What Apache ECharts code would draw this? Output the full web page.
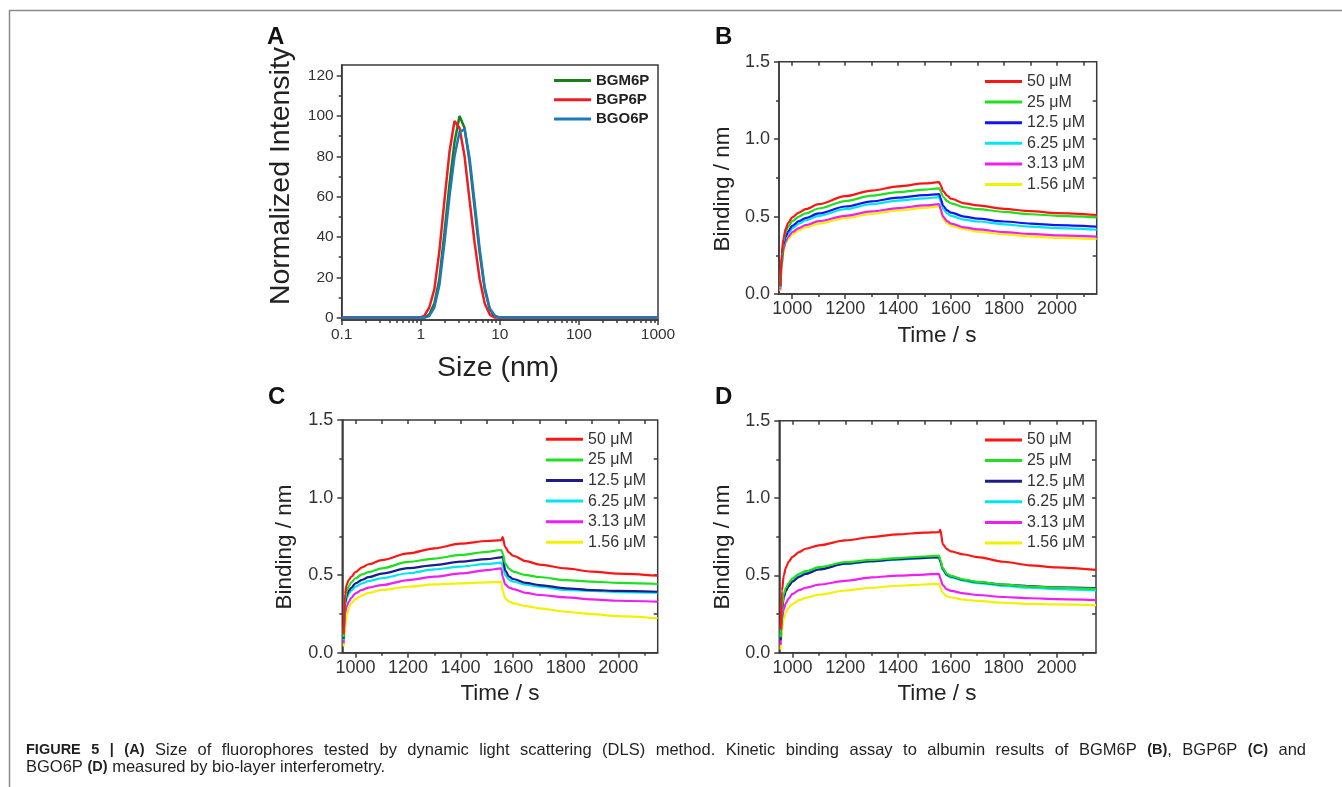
<!DOCTYPE html>
<html><head><meta charset="utf-8">
<script src="https://cdn.jsdelivr.net/npm/echarts@6/dist/echarts.min.js"></script>
<style>html,body{margin:0;padding:0;background:#fff}#c{width:1342px;height:787px}</style>
</head><body><div id="c"></div><script>
// ---------- Panel A data (DLS) ----------
const dlsSize = [0.1, 0.955, 1.106, 1.281, 1.484, 1.718, 1.990, 2.305, 2.669, 3.091, 3.580, 4.145, 4.801, 5.560, 6.439, 7.456, 8.635, 10.0, 11.58, 1000];
const dlsBGM6P = [0, 0, 0, 1.5, 7, 19, 42, 66, 87, 100, 94, 77, 54, 32, 14, 4, 0.5, 0, 0, 0];
const dlsBGP6P = [0, 0, 0.8, 5, 14, 33, 58, 82, 97.5, 94, 80, 58, 37, 19, 7, 1.5, 0, 0, 0, 0];
const dlsBGO6P = [0, 0, 0, 0.8, 5, 16, 37, 60, 80, 92, 93.5, 79, 57, 34, 15, 4.5, 1, 0, 0, 0];
const dlsNames = ['BGM6P', 'BGP6P', 'BGO6P'];
const sizeMinor = [0.2,0.3,0.4,0.5,0.6,0.7,0.8,0.9,2,3,4,5,6,7,8,9,20,30,40,50,60,70,80,90,200,300,400,500,600,700,800,900];
const intensityTicks = [0, 20, 40, 60, 80, 100, 120];
const intensityMinor = [10, 30, 50, 70, 90, 110];

// ---------- Panels B-D data (BLI kinetics) ----------
const kinTime = [955, 960, 967, 975, 985, 1000, 1025, 1050, 1100, 1200, 1300, 1400, 1500, 1555, 1560, 1570, 1585, 1600, 1650, 1700, 1800, 1900, 2000, 2150];
const concLabels = ['50 μM', '25 μM', '12.5 μM', '6.25 μM', '3.13 μM', '1.56 μM'];

const B_50  = [0.05, 0.26, 0.36, 0.42, 0.46, 0.495, 0.525, 0.548, 0.58, 0.632, 0.668, 0.695, 0.714, 0.722, 0.705, 0.665, 0.635, 0.615, 0.585, 0.572, 0.55, 0.535, 0.522, 0.51];
const B_25  = [0.05, 0.24, 0.34, 0.40, 0.435, 0.47, 0.50, 0.52, 0.552, 0.60, 0.635, 0.658, 0.674, 0.682, 0.665, 0.628, 0.60, 0.585, 0.56, 0.548, 0.53, 0.515, 0.505, 0.495];
const B_125 = [0.05, 0.23, 0.32, 0.37, 0.405, 0.44, 0.47, 0.49, 0.52, 0.565, 0.598, 0.622, 0.638, 0.645, 0.62, 0.57, 0.54, 0.525, 0.50, 0.487, 0.468, 0.455, 0.445, 0.435];
const B_625 = [0.04, 0.22, 0.31, 0.36, 0.39, 0.425, 0.455, 0.475, 0.505, 0.548, 0.58, 0.603, 0.618, 0.625, 0.60, 0.55, 0.52, 0.505, 0.48, 0.468, 0.45, 0.435, 0.425, 0.415];
const B_313 = [0.03, 0.19, 0.29, 0.34, 0.37, 0.40, 0.425, 0.445, 0.47, 0.505, 0.533, 0.555, 0.572, 0.58, 0.55, 0.50, 0.47, 0.455, 0.43, 0.417, 0.40, 0.388, 0.378, 0.37];
const B_156 = [0.02, 0.16, 0.27, 0.325, 0.355, 0.385, 0.41, 0.43, 0.455, 0.49, 0.518, 0.54, 0.556, 0.565, 0.535, 0.485, 0.455, 0.44, 0.418, 0.403, 0.385, 0.372, 0.363, 0.355];

const C_50  = [0.12, 0.38, 0.44, 0.47, 0.49, 0.52, 0.55, 0.57, 0.597, 0.64, 0.673, 0.703, 0.72, 0.726, 0.745, 0.68, 0.645, 0.625, 0.59, 0.568, 0.543, 0.523, 0.51, 0.496];
const C_25  = [0.10, 0.34, 0.40, 0.43, 0.455, 0.48, 0.505, 0.52, 0.544, 0.585, 0.607, 0.63, 0.65, 0.662, 0.64, 0.575, 0.54, 0.522, 0.50, 0.488, 0.468, 0.458, 0.45, 0.443];
const C_125 = [0.09, 0.32, 0.37, 0.40, 0.42, 0.447, 0.47, 0.487, 0.51, 0.545, 0.565, 0.587, 0.603, 0.615, 0.62, 0.53, 0.49, 0.475, 0.45, 0.436, 0.415, 0.404, 0.398, 0.393];
const C_625 = [0.08, 0.30, 0.35, 0.38, 0.40, 0.425, 0.447, 0.462, 0.48, 0.512, 0.537, 0.555, 0.572, 0.58, 0.56, 0.50, 0.47, 0.458, 0.438, 0.425, 0.405, 0.398, 0.391, 0.387];
const C_313 = [0.06, 0.25, 0.30, 0.33, 0.355, 0.383, 0.405, 0.42, 0.436, 0.468, 0.49, 0.511, 0.532, 0.544, 0.49, 0.44, 0.42, 0.41, 0.385, 0.372, 0.357, 0.344, 0.335, 0.329];
const C_156 = [0.04, 0.15, 0.24, 0.29, 0.32, 0.345, 0.37, 0.385, 0.405, 0.425, 0.44, 0.447, 0.453, 0.457, 0.40, 0.35, 0.33, 0.318, 0.30, 0.286, 0.264, 0.249, 0.236, 0.222];

const D_50  = [0.15, 0.40, 0.50, 0.55, 0.587, 0.619, 0.65, 0.672, 0.694, 0.726, 0.748, 0.765, 0.776, 0.78, 0.795, 0.70, 0.67, 0.655, 0.635, 0.618, 0.588, 0.565, 0.552, 0.535];
const D_25  = [0.10, 0.30, 0.38, 0.42, 0.45, 0.48, 0.51, 0.527, 0.553, 0.585, 0.60, 0.612, 0.622, 0.628, 0.60, 0.545, 0.51, 0.497, 0.473, 0.458, 0.44, 0.428, 0.42, 0.413];
const D_125 = [0.08, 0.28, 0.36, 0.40, 0.43, 0.46, 0.49, 0.51, 0.538, 0.575, 0.592, 0.605, 0.613, 0.618, 0.59, 0.54, 0.505, 0.493, 0.47, 0.456, 0.44, 0.43, 0.422, 0.417];
const D_625 = [0.08, 0.28, 0.36, 0.40, 0.435, 0.465, 0.495, 0.515, 0.54, 0.575, 0.59, 0.602, 0.612, 0.617, 0.59, 0.535, 0.50, 0.487, 0.465, 0.45, 0.432, 0.42, 0.411, 0.403];
const D_313 = [0.05, 0.22, 0.28, 0.32, 0.35, 0.38, 0.405, 0.42, 0.44, 0.465, 0.487, 0.498, 0.505, 0.51, 0.48, 0.435, 0.41, 0.40, 0.383, 0.373, 0.36, 0.352, 0.346, 0.34];
const D_156 = [0.02, 0.14, 0.22, 0.26, 0.29, 0.315, 0.34, 0.355, 0.375, 0.402, 0.42, 0.433, 0.441, 0.445, 0.42, 0.385, 0.365, 0.357, 0.343, 0.335, 0.323, 0.316, 0.312, 0.308];

const timeTicks = [1000, 1200, 1400, 1600, 1800, 2000];
const timeMinor = [1100, 1300, 1500, 1700, 1900, 2100];
const timeTop = [1000, 1100, 1200, 1300, 1400, 1500, 1600, 1700, 1800, 1900, 2000, 2100];
const bindingTicks = [0, 0.5, 1.0, 1.5];
const bindingMinor = [0.25, 0.75, 1.25];
const bindingRight = [0.25, 0.5, 0.75, 1.0, 1.25];

const panelLetters = ['A', 'B', 'C', 'D'];
// '*' toggles bold
const captionLine1 = '*FIGURE 5 | (A)* Size of fluorophores tested by dynamic light scattering (DLS) method. Kinetic binding assay to albumin results of BGM6P *(B)*, BGP6P *(C)* and';
const captionLine2 = 'BGO6P *(D)* measured by bio-layer interferometry.';

// ---------- styling ----------
const F = "'Liberation Sans', Arial, Helvetica, sans-serif";
const AX = '#3a3a3a';
const TXT = '#333333';
const lineSt = {color: AX, width: 1.5};
const dlsColors = ['#17801d', '#ee1c25', '#1f78b8'];
const kinColorsB = ['#ff1414', '#1ee01e', '#1414f0', '#00e6f0', '#f01ef0', '#f2f200'];
const kinColorsCD = ['#ff1414', '#1ee01e', '#1c1c8c', '#00e6f0', '#f01ef0', '#f2f200'];

const kinData = [
  [B_50, B_25, B_125, B_625, B_313, B_156],
  [C_50, C_25, C_125, C_625, C_313, C_156],
  [D_50, D_25, D_125, D_625, D_313, D_156]
];
const kinColors = [kinColorsB, kinColorsCD, kinColorsCD];

const gridPos = [
  {left: 341.7, top: 65, width: 316.3, height: 255},
  {left: 779, top: 61.7, width: 317.7, height: 232.3},
  {left: 342.3, top: 420, width: 315.4, height: 232.7},
  {left: 779.3, top: 420.7, width: 316.7, height: 232}
];
const grids = gridPos.map(g => Object.assign({show: true, borderColor: AX, borderWidth: 1.5,
  backgroundColor: 'transparent', containLabel: false, outerBoundsMode: 'none'}, g));

function ax(o) {
  return Object.assign({
    type: 'value', splitLine: {show: false},
    axisLine: {show: false, onZero: false},
    axisTick: {show: false}, axisLabel: {show: false}
  }, o);
}

const xAxes = [];
const yAxes = [];
const series = [];

// Panel A axes
xAxes.push({type: 'log', logBase: 10, gridIndex: 0, position: 'bottom', min: 0.1, max: 1000,
  splitLine: {show: false},
  axisLine: {show: true, onZero: false, lineStyle: lineSt},
  axisTick: {show: true, length: 5, lineStyle: lineSt},
  axisLabel: {show: true, formatter: v => String(+(+v).toPrecision(3)), margin: 7, fontSize: 15.5, color: TXT, fontFamily: F}
});
xAxes.push({type: 'log', logBase: 10, gridIndex: 0, position: 'bottom', min: 0.1, max: 1000,
  splitLine: {show: false}, axisLine: {show: false, onZero: false}, axisLabel: {show: false},
  axisTick: {show: true, customValues: sizeMinor, length: 3, lineStyle: lineSt}
});
yAxes.push(ax({gridIndex: 0, position: 'left', min: -1.2, max: 125.3,
  axisLine: {show: true, onZero: false, lineStyle: lineSt},
  axisTick: {show: true, customValues: intensityTicks, length: 5, lineStyle: lineSt},
  axisLabel: {show: true, customValues: intensityTicks, formatter: v => String(v), margin: 8, fontSize: 15.5, color: TXT, fontFamily: F}
}));
yAxes.push(ax({gridIndex: 0, position: 'left', min: -1.2, max: 125.3,
  axisTick: {show: true, customValues: intensityMinor, length: 3, lineStyle: lineSt}
}));

const dlsVals = [dlsBGM6P, dlsBGP6P, dlsBGO6P];
dlsNames.forEach((n, i) => {
  series.push({type: 'line', name: n, xAxisIndex: 0, yAxisIndex: 0,
    data: dlsSize.map((s, j) => [s, dlsVals[i][j]]),
    showSymbol: false, symbol: 'none', lineStyle: {width: 2.5, color: dlsColors[i]}, itemStyle: {color: dlsColors[i]},
    z: 3 + i});
});

// Panels B-D
for (let p = 0; p < 3; p++) {
  const g = p + 1;
  const xi = xAxes.length;
  xAxes.push(ax({gridIndex: g, position: 'bottom', min: 950, max: 2150,
    axisLine: {show: true, onZero: false, lineStyle: lineSt},
    axisTick: {show: true, customValues: timeTicks, length: 5, lineStyle: lineSt},
    axisLabel: {show: true, customValues: timeTicks, formatter: v => String(v), margin: 6, fontSize: 18, color: TXT, fontFamily: F}
  }));
  xAxes.push(ax({gridIndex: g, position: 'bottom', min: 950, max: 2150,
    axisTick: {show: true, customValues: timeMinor, length: 3, lineStyle: lineSt}}));
  xAxes.push(ax({gridIndex: g, position: 'top', min: 950, max: 2150,
    axisTick: {show: true, inside: true, customValues: timeTop, length: 4, lineStyle: lineSt}}));
  const yi = yAxes.length;
  yAxes.push(ax({gridIndex: g, position: 'left', min: 0, max: 1.5,
    axisLine: {show: true, onZero: false, lineStyle: lineSt},
    axisTick: {show: true, customValues: bindingTicks, length: 5, lineStyle: lineSt},
    axisLabel: {show: true, customValues: bindingTicks, formatter: v => (+v).toFixed(1), margin: 9, fontSize: 18, color: TXT, fontFamily: F}
  }));
  yAxes.push(ax({gridIndex: g, position: 'left', min: 0, max: 1.5,
    axisTick: {show: true, customValues: bindingMinor, length: 3, lineStyle: lineSt}}));
  yAxes.push(ax({gridIndex: g, position: 'right', min: 0, max: 1.5,
    axisTick: {show: true, inside: true, customValues: bindingRight, length: 4, lineStyle: lineSt}}));
  concLabels.forEach((n, i) => {
    const col = kinColors[p][i];
    series.push({type: 'line', name: n, xAxisIndex: xi, yAxisIndex: yi,
      data: kinTime.map((t, j) => [t, kinData[p][i][j]]),
      showSymbol: false, symbol: 'none', smooth: 0.3, smoothMonotone: 'x',
      lineStyle: {width: 2.2, color: col}, itemStyle: {color: col}, z: 3 + (5 - i)});
  });
}

// Legends
const legends = [];
legends.push({left: 554, top: 73, orient: 'vertical', icon: 'rect', itemWidth: 37, itemHeight: 3, itemGap: 4.3, padding: 0,
  textStyle: {fontFamily: F, fontSize: 15, fontWeight: 'bold', color: '#222'},
  data: dlsNames.map((n, i) => ({name: n, itemStyle: {color: dlsColors[i]}}))});
const legPos = [{left: 985, top: 73.5}, {left: 546, top: 431.3}, {left: 985, top: 432}];
for (let p = 0; p < 3; p++) {
  legends.push(Object.assign({orient: 'vertical', icon: 'rect', itemWidth: 37, itemHeight: 3, itemGap: 4.6, padding: 0,
    textStyle: {fontFamily: F, fontSize: 16, color: TXT},
    data: concLabels.map((n, i) => ({name: n, itemStyle: {color: kinColors[p][i]}}))}, legPos[p]));
}

// Graphics: frame, letters, axis titles, caption
const letterPos = [[267, 37], [715, 37], [268, 397], [715, 397]];
const graphic = [
  {type: 'polyline', shape: {points: [[9.5, 787], [9.5, 10.5], [1342, 10.5]]}, style: {stroke: '#8a8a8a', lineWidth: 1.5, fill: null}}
];
panelLetters.forEach((L, i) => graphic.push({type: 'text', x: letterPos[i][0], y: letterPos[i][1],
  style: {text: L, fontFamily: F, fontSize: 24, fontWeight: 'bold', fill: '#111', align: 'left', verticalAlign: 'middle'}}));
function title(txt, x, y, size, rot) {
  return {type: 'text', x: x, y: y, rotation: rot ? Math.PI / 2 : 0,
    style: {text: txt, fontFamily: F, fontSize: size, fill: '#222', align: 'center', verticalAlign: 'middle'}};
}
graphic.push(title('Normalized Intensity', 281, 176, 28.5, true));
graphic.push(title('Size (nm)', 498, 368, 28.5, false));
graphic.push(title('Binding / nm', 723, 189, 22.5, true));
graphic.push(title('Time / s', 937, 336, 22.5, false));
graphic.push(title('Binding / nm', 285, 547, 22.5, true));
graphic.push(title('Time / s', 500, 694, 22.5, false));
graphic.push(title('Binding / nm', 723, 547, 22.5, true));
graphic.push(title('Time / s', 937, 694, 22.5, false));

// Caption: first line justified to the figure width, second line natural
const CAP_B = 14.5, CAP_N = 16.5;
const capFont = {b: 'bold ' + CAP_B + 'px ' + F, n: CAP_N + 'px ' + F};
const mctx = document.createElement('canvas').getContext('2d');
function measure(style, t) { mctx.font = capFont[style]; return mctx.measureText(t).width; }
function parseWords(str) {
  let bold = false;
  return str.split(' ').map(w => {
    const pieces = []; let cur = '';
    for (const ch of w) {
      if (ch === '*') { if (cur) pieces.push([bold ? 'b' : 'n', cur]); cur = ''; bold = !bold; }
      else cur += ch;
    }
    if (cur) pieces.push([bold ? 'b' : 'n', cur]);
    return {pieces: pieces, boldAfter: bold};
  });
}
function buildRich(str, justifyWidth) {
  const words = parseWords(str);
  let wordsW = 0;
  words.forEach(w => w.pieces.forEach(pc => { wordsW += measure(pc[0], pc[1]); }));
  const nSp = words.length - 1;
  const spW = justifyWidth ? (justifyWidth - wordsW) / nSp : null;
  let out = '';
  words.forEach((w, i) => {
    w.pieces.forEach(pc => { out += '{' + pc[0] + '|' + pc[1] + '}'; });
    if (i < nSp) out += justifyWidth ? '{sp| }' : '{' + (w.boldAfter ? 'b' : 'n') + '| }';
  });
  return {text: out, spW: spW};
}
const cap1 = buildRich(captionLine1, 1280);
const cap2 = buildRich(captionLine2, null);
function capRich(spW) {
  const r = {
    b: {fontFamily: F, fontSize: CAP_B, fontWeight: 'bold', fill: '#231f20'},
    n: {fontFamily: F, fontSize: CAP_N, fill: '#231f20'}
  };
  if (spW) r.sp = {fontFamily: F, fontSize: CAP_N, width: spW, fill: '#231f20'};
  return r;
}
graphic.push({type: 'text', x: 26, y: 750, style: {text: cap1.text, rich: capRich(cap1.spW), fontFamily: F, fontSize: CAP_N, fill: '#231f20', align: 'left', verticalAlign: 'middle'}});
graphic.push({type: 'text', x: 26, y: 767, style: {text: cap2.text, rich: capRich(null), fontFamily: F, fontSize: CAP_N, fill: '#231f20', align: 'left', verticalAlign: 'middle'}});

const chart = echarts.init(document.getElementById('c'), null, {renderer: 'canvas'});
chart.setOption({
  animation: false,
  backgroundColor: '#ffffff',
  grid: grids,
  xAxis: xAxes,
  yAxis: yAxes,
  legend: legends,
  series: series,
  graphic: graphic
});
</script></body></html>
